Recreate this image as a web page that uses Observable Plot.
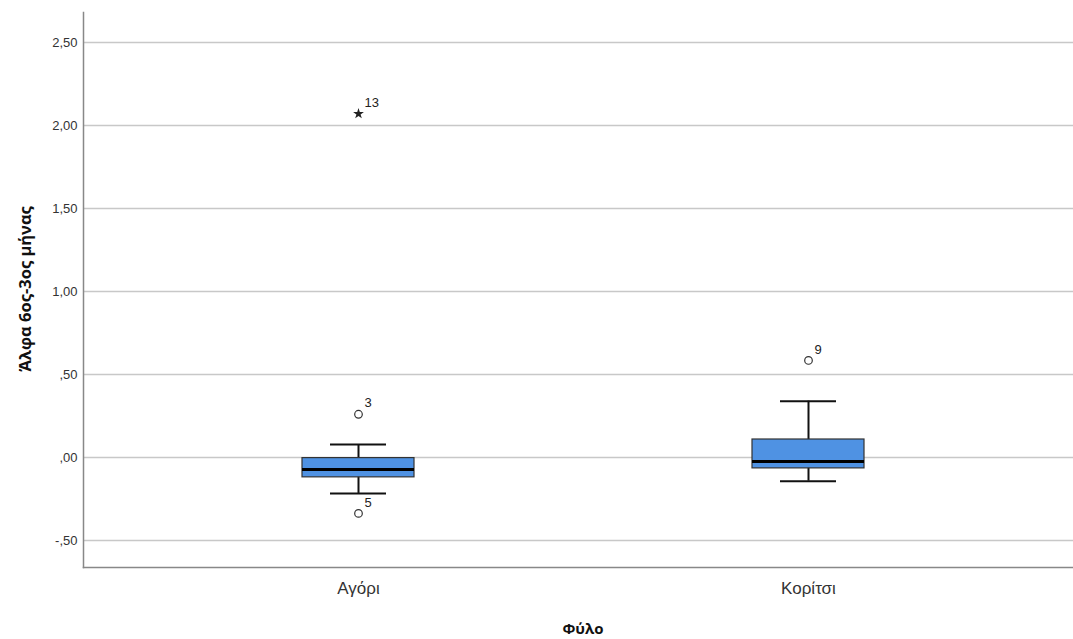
<!DOCTYPE html>
<html>
<head>
<meta charset="utf-8">
<script src="https://cdn.jsdelivr.net/npm/d3@7"></script>
<script src="https://cdn.jsdelivr.net/npm/@observablehq/plot@0.6"></script>
<style>
  body { margin: 0; background: #fff; }
  #chart { position: relative; width: 1073px; height: 639px; }
</style>
</head>
<body>
<div id="chart"></div>
<script>
// Data
const categories = ["Αγόρι", "Κορίτσι"];
const whiskerLow = [-0.217, -0.143];
const q1 = [-0.12, -0.066];
const median = [-0.072, -0.024];
const q3 = [-0.004, 0.108];
const whiskerHigh = [0.078, 0.339];
const outlierCat = ["Αγόρι", "Αγόρι", "Αγόρι", "Κορίτσι"];
const outlierValue = [2.07, 0.26, -0.337, 0.584];
const outlierLabel = ["13", "3", "5", "9"];
const outlierKind = ["extreme", "outlier", "outlier", "outlier"];
const yTicks = [-0.5, 0, 0.5, 1, 1.5, 2, 2.5];
const xTitle = "Φύλο";
const yTitle = "Άλφα 6ος-3ος μήνας";

const boxes = categories.map((c, i) => ({
  cat: c, lo: whiskerLow[i], q1: q1[i], med: median[i], q3: q3[i], hi: whiskerHigh[i]
}));
const outs = outlierCat.map((c, i) => ({
  cat: c, v: outlierValue[i], label: outlierLabel[i], kind: outlierKind[i]
}));

const fmt = v => {
  const s = Math.abs(v).toFixed(2).replace(".", ",").replace(/^0/, "");
  return (v < 0 ? "-" : "") + s;
};

const boxInset = (450 - 112) / 2;
const capInset = (450 - 56) / 2;
const font = "Liberation Sans, Arial, sans-serif";
const titleFont = "'Open Sans', 'Liberation Sans', sans-serif";

const chart = Plot.plot({
  width: 1073,
  height: 639,
  marginLeft: 83,
  marginRight: 0,
  marginTop: 12,
  marginBottom: 72,
  style: { fontFamily: font, background: "#fff", overflow: "visible" },
  x: { domain: categories, range: [133, 1033], padding: 0, axis: null },
  y: { domain: [-0.663, 2.68], axis: null },
  marks: [
    Plot.ruleY(yTicks, { stroke: "#c8c8c8", strokeWidth: 1.5 }),
    // whiskers
    Plot.ruleX(boxes, { x: "cat", y1: "lo", y2: "hi", stroke: "#111", strokeWidth: 2 }),
    Plot.tickY(boxes, { x: "cat", y: "lo", stroke: "#111", strokeWidth: 2, insetLeft: capInset, insetRight: capInset }),
    Plot.tickY(boxes, { x: "cat", y: "hi", stroke: "#111", strokeWidth: 2, insetLeft: capInset, insetRight: capInset }),
    // boxes
    Plot.barY(boxes, { x: "cat", y1: "q1", y2: "q3", fill: "#4f92e3", stroke: "#333", strokeWidth: 1.2, insetLeft: boxInset, insetRight: boxInset }),
    Plot.tickY(boxes, { x: "cat", y: "med", stroke: "#000", strokeWidth: 3, insetLeft: boxInset, insetRight: boxInset }),
    // outliers
    Plot.dot(outs.filter(d => d.kind === "outlier"), { x: "cat", y: "v", r: 3.8, stroke: "#333", strokeWidth: 1.2, fill: "none" }),
    Plot.dot(outs.filter(d => d.kind === "extreme"), { x: "cat", y: "v", r: 3.4, symbol: "star", fill: "#222", stroke: "none" }),
    Plot.text(outs, { x: "cat", y: "v", text: "label", dx: 6, dy: -11, textAnchor: "start", fontSize: 13, fill: "#222" }),
    // axes
    Plot.axisY(yTicks, { tickSize: 0, tickPadding: 6, tickFormat: fmt, fontSize: 13, fill: "#333", label: null }),
    Plot.axisX({ tickSize: 0, tickPadding: 14, fontSize: 17, fill: "#333", label: null }),
    Plot.frame({ anchor: "bottom", stroke: "#888", strokeWidth: 1.5 }),
    Plot.frame({ anchor: "left", stroke: "#888", strokeWidth: 1.5 })
  ]
});

document.getElementById("chart").appendChild(chart);

// titles as real text in the SVG
const svg = d3.select(chart);
svg.append("text")
  .attr("x", 583).attr("y", 634)
  .attr("text-anchor", "middle")
  .attr("font-family", titleFont).attr("font-weight", "bold").attr("font-size", 15)
  .attr("fill", "#111")
  .text(xTitle);
svg.append("text")
  .attr("transform", "translate(31,289) rotate(-90)")
  .attr("text-anchor", "middle")
  .attr("font-family", titleFont).attr("font-weight", "bold").attr("font-size", 16.5)
  .attr("fill", "#111")
  .text(yTitle);
</script>
</body>
</html>
